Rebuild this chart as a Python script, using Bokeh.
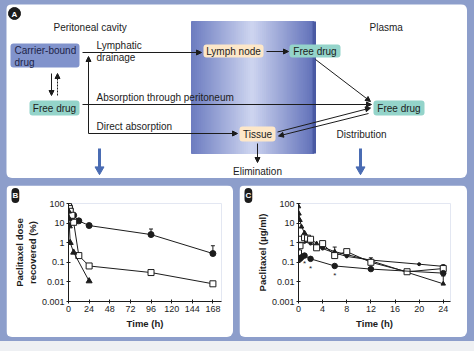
import numpy as np
from bokeh.plotting import figure
from bokeh.layouts import column, row
from bokeh.models import (Range1d, Arrow, NormalHead, FixedTicker,
                          CustomJSTickFormatter, Spacer)
from bokeh.core.properties import value
from bokeh.embed import file_html
from bokeh.resources import INLINE

FONT = "Liberation Sans"
FRAME = "#8d9ecb"
INK = "#1c1c1c"

# ---------------- Panel B data: paclitaxel dose recovered (%) vs time (h)
b_time_ticks = [0, 24, 48, 72, 96, 120, 144, 168]
b_circ_t = [0, 1, 2, 6, 12, 24, 96, 168]
b_circ_v = [90, 70, 50, 25, 13, 7.5, 2.6, 0.28]
b_sq_t = [0, 1, 2, 4, 6, 12, 24, 96, 168]
b_sq_v = [70, 55, 40, 25, 11, 0.22, 0.065, 0.03, 0.008]
b_tri_t = [0, 0.5, 1, 2, 6, 24]
b_tri_v = [40, 17, 7, 1, 0.32, 0.011]
b_err_t = [12, 96, 168]
b_err_lo = [13, 2.6, 0.28]
b_err_hi = [17, 5.0, 0.7]

# ---------------- Panel C data: plasma paclitaxel (ug/ml) vs time (h)
c_time_ticks = [0, 4, 8, 12, 16, 20, 24]
c_tri_t = [0, 0.083, 0.25, 0.5, 1, 2, 3, 4, 6, 8, 12, 24]
c_tri_v = [70, 30, 14, 6.5, 3.2, 1.6, 0.9, 0.6, 0.35, 0.25, 0.12, 0.008]
c_dot_t = [0, 0.25, 0.5, 1, 2, 3, 4, 6, 8, 12, 20, 24]
c_dot_v = [0.8, 1.0, 1.2, 1.1, 0.9, 0.7, 0.5, 0.3, 0.2, 0.13, 0.08, 0.062]
c_sq_t = [0, 0.25, 0.5, 1, 1.5, 2, 3, 4, 6, 8, 12, 18, 24]
c_sq_v = [0.3, 0.7, 1.5, 1.8, 1.7, 1.5, 0.55, 0.9, 0.22, 0.35, 0.1, 0.033, 0.048]
c_circ_t = [0.25, 0.5, 1, 2, 6, 12, 24]
c_circ_v = [0.15, 0.18, 0.22, 0.15, 0.065, 0.045, 0.028]
c_err_t = [6, 12, 24, 24, 24]
c_err_lo = [0.3, 0.13, 0.062, 0.028, 0.008]
c_err_hi = [0.6, 0.17, 0.075, 0.045, 0.02]
c_star_t = [1, 2, 6]
c_star_v = [0.085, 0.048, 0.022]

log_ticks = [0.001, 0.01, 0.1, 1, 10, 100]

# ---------------- Panel A (diagram)
pA = figure(width=461, height=174, x_range=Range1d(6, 467), y_range=Range1d(178, 4),
            x_axis_location=None, y_axis_location=None, min_border=0,
            output_backend="svg", toolbar_location=None,
            background_fill_color="white", border_fill_color="white",
            outline_line_color=None)
pA.grid.visible = False
pA.margin = (4, 7, 0, 6)
pA.styles = {"border-radius": "6px", "overflow": "hidden"}

# gradient band
n = 60
xs = np.linspace(191, 313, n + 1)
stops = [(0.0, (108, 124, 192)), (0.5, (206, 213, 240)), (1.0, (98, 114, 186))]
cols = []
for i in range(n):
    f = (i + 0.5) / n
    if f <= 0.5:
        a, b, g = stops[0][1], stops[1][1], f / 0.5
    else:
        a, b, g = stops[1][1], stops[2][1], (f - 0.5) / 0.5
    c = tuple(int(round(a[k] + (b[k] - a[k]) * g)) for k in range(3))
    cols.append("#%02x%02x%02x" % c)
pA.quad(left=xs[:-1], right=xs[1:] + 0.5, top=21, bottom=153, fill_color=cols,
        line_color=cols, line_width=1)
pA.quad(left=[312], right=[315.5], top=21, bottom=153, fill_color="#4a5aa3", line_color=None)

# boxes
box_l = [10, 29, 203, 289, 373, 239]
box_r = [79, 79, 263, 340, 424, 275]
box_t = [43, 100, 44, 44, 100, 126]
box_b = [67, 115, 57, 57, 115, 141]
box_c = ["#8193cc", "#94d4ca", "#fde7c8", "#94d4ca", "#94d4ca", "#fde7c8"]
pA.quad(left=box_l, right=box_r, top=box_t, bottom=box_b, fill_color=box_c,
        line_color=None, border_radius=3)

def txt(p, x, y, s, align="left", size="10px", color=INK, style="normal"):
    p.text(x=[x], y=[y], text=[s], text_align=align, text_baseline="middle",
           text_font=value(FONT), text_font_size=size, text_color=color,
           text_font_style=style)

txt(pA, 53, 27, "Peritoneal cavity")
txt(pA, 369, 27, "Plasma")
txt(pA, 14, 49.5, "Carrier-bound", color="#1d2448")
txt(pA, 14, 61.5, "drug", color="#1d2448")
txt(pA, 96, 45, "Lymphatic")
txt(pA, 96, 57, "drainage")
txt(pA, 96, 97, "Absorption through peritoneum")
txt(pA, 96, 126, "Direct absorption")
txt(pA, 361, 134, "Distribution", align="center")
txt(pA, 257, 171, "Elimination", align="center")
txt(pA, 54, 107.5, "Free drug", align="center")
txt(pA, 233, 50.5, "Lymph node", align="center")
txt(pA, 314.5, 50.5, "Free drug", align="center")
txt(pA, 398.5, 107.5, "Free drug", align="center")
txt(pA, 257, 133.5, "Tissue", align="center")

def arrow(p, x0, y0, x1, y1, dash="solid"):
    p.add_layout(Arrow(end=NormalHead(size=5, line_color=INK, fill_color=INK, line_width=1),
                       x_start=x0, y_start=y0, x_end=x1, y_end=y1,
                       line_color=INK, line_width=1, line_dash=dash))

arrow(pA, 82, 52, 201, 52)
arrow(pA, 88, 133, 88, 56)
arrow(pA, 82, 104, 371, 104)
arrow(pA, 88, 133, 237, 133)
arrow(pA, 266, 51, 288, 51)
arrow(pA, 315, 59, 370, 101)
arrow(pA, 277, 131.5, 370, 107.5)
arrow(pA, 368, 113, 278, 135.5)
arrow(pA, 257, 143, 257, 162)
arrow(pA, 51, 73, 51, 95)
arrow(pA, 57, 95, 57, 73, dash="2 1")

# big blue arrows
pA.segment(x0=[99, 360], y0=[148, 148], x1=[99, 360], y1=[167, 167],
           line_color="#4a6cb3", line_width=3)
pA.scatter(x=[99, 360], y=[169, 169], marker="inverted_triangle", size=9,
           fill_color="#4a6cb3", line_color="#4a6cb3")

# letter A
pA.scatter(x=[14], y=[13], marker="circle", size=12, fill_color=INK, line_color=INK)
txt(pA, 14, 13.5, "A", align="center", size="8px", color="white", style="bold")


# ---------------- log panels
def log_panel(width, xmax, xticks, ylabel, left, right, letter):
    p = figure(width=width, height=152, x_range=Range1d(0, xmax),
               y_range=Range1d(0.001, 100), y_axis_type="log",
               output_backend="svg", toolbar_location=None,
               min_border_left=left, min_border_right=right,
               min_border_top=16, min_border_bottom=36,
               background_fill_color="white", border_fill_color="white",
               outline_line_color=None)
    p.grid.visible = False
    p.xaxis.ticker = FixedTicker(ticks=xticks, minor_ticks=[])
    p.yaxis.ticker = FixedTicker(ticks=log_ticks, minor_ticks=[])
    p.yaxis.formatter = CustomJSTickFormatter(code="return tick.toString();")
    for ax in (p.xaxis[0], p.yaxis[0]):
        ax.axis_line_color = INK
        ax.major_tick_line_color = INK
        ax.major_tick_in = 2
        ax.major_tick_out = 2
        ax.minor_tick_line_color = None
        ax.major_label_text_font = FONT
        ax.major_label_text_font_size = "9px"
        ax.major_label_text_color = INK
        ax.major_label_standoff = 2
        ax.axis_label_text_font = FONT
        ax.axis_label_text_font_size = "9.5px"
        ax.axis_label_text_font_style = "bold"
        ax.axis_label_text_color = INK
        ax.axis_label_standoff = 3
    p.yaxis.axis_label_standoff = 1
    p.xaxis.axis_label = "Time (h)"
    p.yaxis.axis_label = ylabel
    p.styles = {"border-radius": "6px", "overflow": "hidden"}
    t = p.title
    t.text = letter
    t.align = "left"
    t.offset = 5 - left
    t.standoff = 1
    t.text_font = FONT
    t.text_font_size = "8px"
    t.text_font_style = "bold"
    t.text_color = "white"
    t.background_fill_color = INK
    t.border_radius = 6
    t.padding = (1, 3)
    return p

def series(p, t, v, marker, size, fill):
    p.line(t, v, line_color=INK, line_width=1)
    p.scatter(t, v, marker=marker, size=size, fill_color=fill, line_color=INK, line_width=1)

def errors(p, t, lo, hi):
    p.segment(x0=t, y0=lo, x1=t, y1=hi, line_color=INK, line_width=1)
    p.scatter(t, hi, marker="dash", size=4, line_color=INK)

pB = log_panel(227, 178, b_time_ticks, "Paclitaxel dose\nrecovered (%)", 62, 12, "B")
pB.margin = (7, 0, 4, 6)
errors(pB, b_err_t, b_err_lo, b_err_hi)
series(pB, b_circ_t, b_circ_v, "circle", 6, INK)
series(pB, b_sq_t, b_sq_v, "square", 6, "white")
series(pB, b_tri_t, b_tri_v, "triangle", 6, INK)

pC = log_panel(228, 25.2, c_time_ticks, "Paclitaxel (\u00b5g/ml)", 59, 17, "C")
pC.margin = (7, 0, 4, 6)
errors(pC, c_err_t, c_err_lo, c_err_hi)
series(pC, c_tri_t, c_tri_v, "triangle", 4.5, INK)
series(pC, c_dot_t, c_dot_v, "circle", 3, INK)
series(pC, c_sq_t, c_sq_v, "square", 6, "white")
series(pC, c_circ_t, c_circ_v, "circle", 5.5, INK)
pC.text(x=c_star_t, y=c_star_v, text=["*"] * len(c_star_t), text_align="center",
        text_baseline="middle", text_font=value(FONT), text_font_size="8px",
        text_color=INK)

bottom = Spacer(width=474, height=10, styles={"background-color": "#eef0f3"})
layout = column(pA, row(pB, pC, spacing=0), bottom, spacing=0,
                styles={"background-color": FRAME})

open("out.html", "w").write(file_html(layout, INLINE))
